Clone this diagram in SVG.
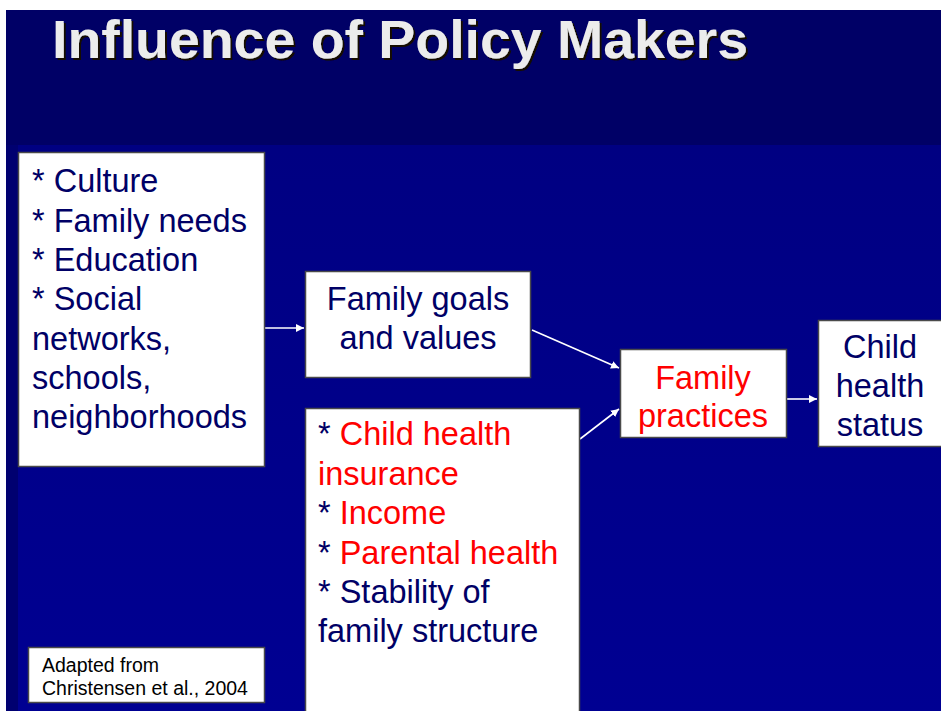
<svg xmlns="http://www.w3.org/2000/svg" width="941" height="711" viewBox="0 0 941 711">
  <defs>
    <style>
      .box { fill: #ffffff; stroke: #4a4a4a; stroke-width: 1.5; }
      .txt { font-family: "Liberation Sans", Arial, sans-serif; font-size: 32.5px; fill: #000066; }
      .red { fill: #ff0000; }
      .mid { text-anchor: middle; }
      .note { font-family: "Liberation Sans", Arial, sans-serif; font-size: 19.5px; fill: #000000; }
      .title { font-family: "Liberation Sans", Arial, sans-serif; font-size: 54px; font-weight: bold; fill: #ececec; filter: url(#shadow); }
      .conn { stroke: #ffffff; stroke-width: 1.6; fill: none; marker-end: url(#arrow); }
    </style>
    <filter id="shadow" x="-5%" y="-20%" width="110%" height="140%">
      <feDropShadow dx="2" dy="2" stdDeviation="0.4" flood-color="#140800" flood-opacity="1"/>
    </filter>
    <marker id="arrow" viewBox="0 0 10 10" refX="10" refY="5" markerWidth="8" markerHeight="8" markerUnits="userSpaceOnUse" orient="auto">
      <path d="M0,0 L10,5 L0,10 Z" fill="#ffffff"/>
    </marker>
    <linearGradient id="lower" x1="0" y1="0" x2="0" y2="1">
      <stop offset="0" stop-color="#00007e"/>
      <stop offset="1" stop-color="#000092"/>
    </linearGradient>
    <linearGradient id="hline" x1="0" y1="0" x2="1" y2="0">
      <stop offset="0" stop-color="#fff6c8"/>
      <stop offset="0.03" stop-color="#6f8cff"/>
      <stop offset="0.35" stop-color="#1630e0"/>
      <stop offset="1" stop-color="#00009a"/>
    </linearGradient>
    <linearGradient id="vline" x1="0" y1="0" x2="0" y2="1">
      <stop offset="0" stop-color="#0a1aa8"/>
      <stop offset="0.19" stop-color="#5d7dff"/>
      <stop offset="0.2" stop-color="#fff6c8"/>
      <stop offset="0.22" stop-color="#5d7dff"/>
      <stop offset="0.5" stop-color="#0a1aa8"/>
      <stop offset="1" stop-color="#00007a"/>
    </linearGradient>
  </defs>

  <!-- slide background -->
  <rect x="0" y="0" width="941" height="711" fill="#ffffff"/>
  <rect x="6" y="10" width="935" height="701" fill="url(#lower)"/>
  <rect x="6" y="10" width="935" height="135" fill="#000066"/>
  <rect x="6" y="145" width="12" height="566" fill="#000070"/>
  <line x1="6" y1="145.5" x2="941" y2="145.5" stroke="url(#hline)" stroke-width="2"/>
  <line x1="15.5" y1="10" x2="15.5" y2="711" stroke="url(#vline)" stroke-width="1.6"/>

  <!-- title -->
  <g id="title">
    <text class="title" x="52" y="58" textLength="696" lengthAdjust="spacingAndGlyphs">Influence of Policy Makers</text>
  </g>

  <!-- connectors -->
  <g id="connectors">
    <line class="conn" x1="265" y1="328" x2="304" y2="328"/>
    <line class="conn" x1="532" y1="330" x2="619" y2="368"/>
    <line class="conn" x1="580" y1="439" x2="619" y2="409"/>
    <line class="conn" x1="787" y1="399" x2="817" y2="399"/>
  </g>

  <!-- influences -->
  <g id="context">
    <rect class="box" x="18.5" y="152.5" width="246" height="314"/>
    <text class="txt" x="32" y="192">* Culture</text>
    <text class="txt" x="32" y="231.5">* Family needs</text>
    <text class="txt" x="32" y="271">* Education</text>
    <text class="txt" x="32" y="310">* Social</text>
    <text class="txt" x="32" y="350">networks,</text>
    <text class="txt" x="32" y="389">schools,</text>
    <text class="txt" x="32" y="428">neighborhoods</text>
  </g>

  <g id="goals">
    <rect class="box" x="305.5" y="271.5" width="225" height="106"/>
    <text class="txt mid" x="418" y="310">Family goals</text>
    <text class="txt mid" x="418" y="349">and values</text>
  </g>

  <g id="resources">
    <rect class="box" x="305.5" y="408.5" width="274" height="310"/>
    <text class="txt" x="318" y="445">* <tspan class="red">Child health</tspan></text>
    <text class="txt red" x="318" y="485">insurance</text>
    <text class="txt" x="318" y="524">* <tspan class="red">Income</tspan></text>
    <text class="txt" x="318" y="564">* <tspan class="red">Parental health</tspan></text>
    <text class="txt" x="318" y="603">* Stability of</text>
    <text class="txt" x="318" y="642">family structure</text>
  </g>

  <g id="practices">
    <rect class="box" x="620.5" y="349.5" width="166" height="88"/>
    <text class="txt red mid" x="703" y="389">Family</text>
    <text class="txt red mid" x="703" y="427">practices</text>
  </g>

  <g id="outcome">
    <rect class="box" x="818.5" y="320.5" width="130" height="126"/>
    <text class="txt mid" x="880" y="358">Child</text>
    <text class="txt mid" x="880" y="397">health</text>
    <text class="txt mid" x="880" y="436">status</text>
  </g>

  <g id="source">
    <rect class="box" x="28.5" y="647.5" width="236" height="55"/>
    <text class="note" x="42" y="672">Adapted from</text>
    <text class="note" x="42" y="695">Christensen et al., 2004</text>
  </g>
</svg>
